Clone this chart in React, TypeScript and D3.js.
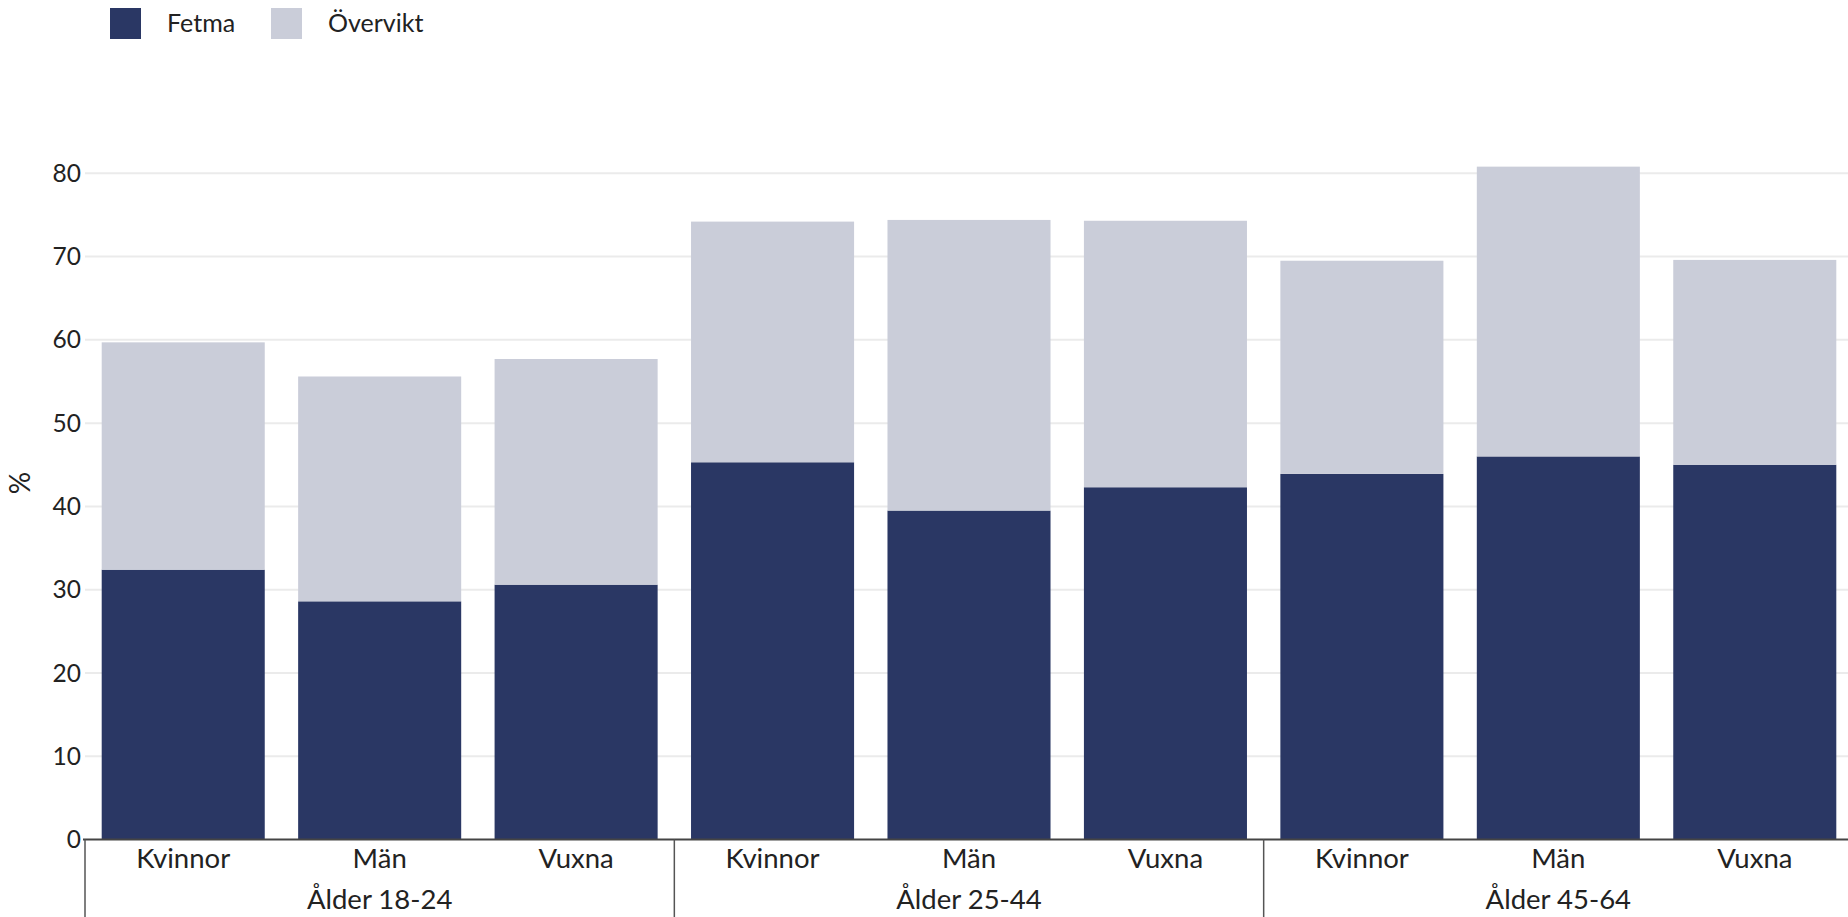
import React from "react";
import * as d3 from "d3";

const groups = ["Ålder 18-24", "Ålder 25-44", "Ålder 45-64"];
const categories = ["Kvinnor", "Män", "Vuxna"];
const fetma = [32.4, 28.6, 30.6, 45.3, 39.5, 42.3, 43.9, 46.0, 45.0];
const overvikt = [27.3, 27.0, 27.1, 28.9, 34.9, 32.0, 25.6, 34.8, 24.6];
const yTicks = [0, 10, 20, 30, 40, 50, 60, 70, 80];
const seriesNames = ["Fetma", "Övervikt"];
const colors = ["#2a3764", "#cacdd9"];

const W = 1848;
const H = 917;
const FONT = "Lato, 'Noto Sans', sans-serif";

export default function App() {
  const keys: string[] = [];
  groups.forEach((g) => categories.forEach((c) => keys.push(g + "|" + c)));
  const rows = keys.map((k, i) => ({ key: k, Fetma: fetma[i], Övervikt: overvikt[i] }));
  const stack = d3.stack<any>().keys(seriesNames)(rows);

  const left = 85;
  const right = 1853;
  const x = d3.scaleBand().domain(keys).range([left, right]).paddingInner(0.17).paddingOuter(0.085);
  const y = d3.scaleLinear().domain([0, 80]).range([839.5, 173.3]);
  const step = x.step();
  const groupEdges = d3.range(groups.length + 1).map((i) => left + i * categories.length * step);

  return (
    <svg width={W} height={H} style={{ position: "absolute", left: 0, top: 0, fontFamily: FONT }}>
      <rect width={W} height={H} fill="#fff" />
      {/* legend */}
      {seriesNames.map((s, i) => (
        <g key={s} transform={`translate(${110 + i * 161},8)`}>
          <rect width={31} height={31} fill={colors[i]} />
          <text x={57} y={15.5} dy="0.35em" fontSize={25} fill="#222">
            {s}
          </text>
        </g>
      ))}
      {/* grid */}
      {yTicks.map((t) => (
        <g key={t}>
          {t > 0 && <line x1={left} x2={W} y1={y(t)} y2={y(t)} stroke="#ebebeb" strokeWidth={2} />}
          <text x={81} y={y(t)} dy="0.35em" textAnchor="end" fontSize={24.5} fill="#222">
            {t}
          </text>
        </g>
      ))}
      {/* bars */}
      {stack.map((layer, li) =>
        layer.map((d, i) => (
          <rect
            key={li + "-" + i}
            x={x(keys[i])}
            width={x.bandwidth()}
            y={y(d[1])}
            height={y(d[0]) - y(d[1])}
            fill={colors[li]}
          />
        ))
      )}
      {/* axis line */}
      <line x1={left - 2} x2={W} y1={y(0)} y2={y(0)} stroke="#444" strokeWidth={2} />
      {/* group separators */}
      {groupEdges.map((gx, i) => (
        <line key={i} x1={gx} x2={gx} y1={y(0)} y2={H} stroke="#555" strokeWidth={1.5} />
      ))}
      {/* category labels */}
      {keys.map((k) => (
        <text
          key={k}
          x={(x(k) as number) + x.bandwidth() / 2}
          y={858}
          dy="0.35em"
          textAnchor="middle"
          fontSize={27.5}
          fill="#222"
        >
          {k.split("|")[1]}
        </text>
      ))}
      {/* group labels */}
      {groups.map((g, i) => (
        <text
          key={g}
          x={(groupEdges[i] + groupEdges[i + 1]) / 2}
          y={899}
          dy="0.35em"
          textAnchor="middle"
          fontSize={27.5}
          fill="#222"
        >
          {g}
        </text>
      ))}
      {/* y label */}
      <text transform="translate(20,483) rotate(-90)" dy="0.35em" textAnchor="middle" fontSize={28} fill="#222">
        %
      </text>
    </svg>
  );
}
